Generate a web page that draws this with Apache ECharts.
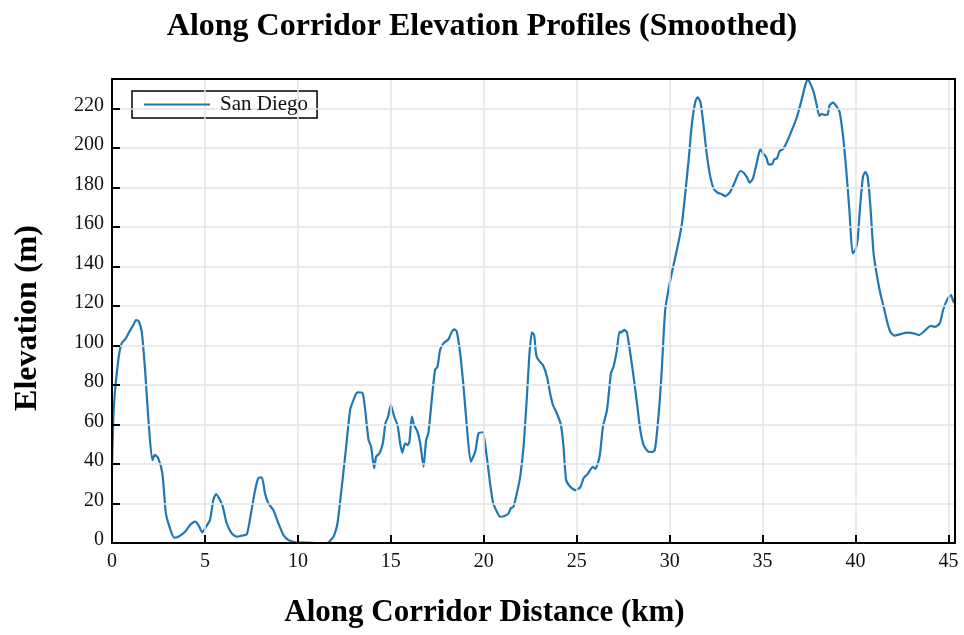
<!DOCTYPE html>
<html>
<head>
<meta charset="utf-8">
<script src="https://cdn.jsdelivr.net/npm/echarts@6/dist/echarts.min.js"></script>
<style>
  html, body { margin: 0; padding: 0; background: #fff; }
  #chart { width: 964px; height: 635px; }
</style>
</head>
<body>
<div id="chart"></div>
<script>
// Along-corridor distance (km) and smoothed elevation (m), San Diego profile
const distanceKm = [
  0.0, 0.1, 0.34, 0.52, 0.75, 0.93, 1.15, 1.29, 1.43, 1.6, 1.78, 1.96, 2.17, 2.31, 2.49, 2.71, 2.9, 3.12, 3.34, 3.57,
  3.93, 4.2, 4.47, 4.65, 4.86, 5.06, 5.27, 5.45, 5.6, 5.81, 5.96, 6.17, 6.44, 6.71, 6.98, 7.25, 7.43, 7.7, 7.87, 8.06,
  8.23, 8.41, 8.68, 8.95, 9.22, 9.49, 9.94, 10.48, 11.02, 11.56, 11.91, 12.13, 12.3, 12.54, 12.81, 12.99, 13.2, 13.47, 13.62, 13.8,
  13.94, 14.1, 14.21, 14.39, 14.57, 14.71, 14.85, 15.0, 15.18, 15.36, 15.5, 15.62, 15.77, 15.9, 16.0, 16.13, 16.25, 16.43, 16.58, 16.76,
  16.9, 17.02, 17.2, 17.38, 17.51, 17.65, 17.83, 18.1, 18.28, 18.42, 18.55, 18.73, 18.91, 19.09, 19.3, 19.54, 19.72, 19.95, 20.16, 20.34,
  20.49, 20.7, 20.88, 21.15, 21.33, 21.46, 21.6, 21.78, 21.96, 22.14, 22.32, 22.46, 22.59, 22.71, 22.82, 22.94, 23.18, 23.4, 23.57, 23.72,
  23.93, 24.15, 24.29, 24.43, 24.65, 24.92, 25.19, 25.37, 25.58, 25.87, 26.0, 26.23, 26.41, 26.63, 26.84, 26.98, 27.16, 27.3, 27.39, 27.56,
  27.7, 27.88, 28.06, 28.24, 28.42, 28.6, 28.86, 29.05, 29.2, 29.33, 29.47, 29.58, 29.76, 30.0, 30.21, 30.48, 30.66, 30.84, 31.02, 31.2,
  31.38, 31.5, 31.65, 31.79, 31.97, 32.15, 32.36, 32.58, 32.78, 32.99, 33.22, 33.44, 33.62, 33.8, 33.98, 34.16, 34.3, 34.48, 34.7, 34.88,
  35.02, 35.2, 35.32, 35.5, 35.63, 35.77, 35.92, 36.1, 36.31, 36.58, 36.85, 37.12, 37.3, 37.44, 37.56, 37.74, 37.89, 38.05, 38.17, 38.37,
  38.5, 38.61, 38.79, 38.97, 39.14, 39.33, 39.5, 39.68, 39.84, 39.99, 40.11, 40.26, 40.4, 40.53, 40.65, 40.8, 40.97, 41.16, 41.33, 41.51,
  41.7, 41.87, 42.09, 42.41, 42.77, 43.13, 43.4, 43.67, 44.03, 44.29, 44.53, 44.71, 44.92, 45.14, 45.28, 45.35
];
const elevationM = [
  38.6, 69.0, 92.7, 101.1, 103.7, 107.0, 110.4, 112.9, 112.4, 107.0, 87.6, 62.3, 42.0, 44.6, 42.9, 35.3, 15.0, 7.4, 2.7, 3.2,
  5.7, 9.1, 10.8, 9.1, 5.4, 8.3, 11.6, 21.8, 24.8, 21.8, 18.4, 10.0, 4.9, 3.2, 3.7, 4.4, 12.5, 26.8, 32.8, 33.3,
  25.2, 20.1, 16.7, 10.0, 4.1, 1.5, 0.2, 0.2, 0.0, 0.0, 3.2, 10.0, 23.4, 43.7, 67.4, 72.4, 76.3, 76.1, 67.4, 52.2,
  48.8, 37.8, 43.7, 45.4, 50.5, 60.6, 64.0, 69.9, 64.0, 59.8, 50.5, 45.7, 50.5, 49.6, 51.3, 64.0, 59.8, 56.4, 50.5, 38.6,
  52.2, 55.6, 72.4, 87.6, 89.3, 97.7, 101.1, 103.2, 107.0, 108.2, 107.0, 96.1, 79.2, 58.9, 41.2, 46.2, 55.6, 56.1, 43.7, 30.2,
  20.9, 15.9, 13.3, 13.8, 15.0, 17.6, 18.4, 25.2, 33.6, 48.8, 74.1, 96.1, 106.7, 105.3, 95.2, 92.7, 90.1, 84.2, 75.8, 69.9,
  65.7, 59.8, 48.8, 31.9, 28.5, 26.8, 28.2, 32.8, 34.9, 38.6, 37.5, 43.7, 58.9, 67.4, 85.9, 89.3, 97.7, 107.0, 106.7, 107.9,
  106.7, 96.1, 84.2, 70.8, 57.2, 49.6, 46.2, 46.1, 47.1, 57.2, 72.4, 88.5, 118.0, 131.5, 140.8, 152.6, 161.9, 177.1, 194.0, 212.6,
  223.5, 225.7, 223.5, 214.2, 199.0, 187.2, 179.6, 177.4, 176.8, 175.7, 177.4, 181.3, 185.5, 188.4, 187.5, 185.2, 182.5, 184.7, 193.1, 199.5,
  197.4, 195.3, 191.8, 191.8, 194.3, 194.8, 198.5, 199.5, 203.2, 209.2, 215.9, 225.2, 232.0, 234.8, 232.8, 228.6, 222.7, 216.3, 217.3, 216.8,
  217.1, 221.8, 223.0, 221.3, 218.4, 205.8, 188.9, 167.0, 146.7, 148.4, 153.5, 172.0, 185.5, 188.0, 185.5, 170.3, 146.7, 134.9, 126.5, 119.7,
  112.1, 107.0, 105.0, 105.8, 106.5, 106.2, 105.3, 107.0, 109.9, 109.5, 111.3, 118.0, 123.1, 125.6, 121.9, 123.6
];

const seriesName = 'San Diego';
const titleText = 'Along Corridor Elevation Profiles (Smoothed)';
const xAxisTitle = 'Along Corridor Distance (km)';
const yAxisTitle = 'Elevation (m)';
const xStepKm = 5;
const yStepM = 20;
const xMaxKm = 45.35;
const yMaxM = 235;

const serif = '"Liberation Serif", "Times New Roman", Times, serif';
const lineColor = '#1f77b4';
const points = distanceKm.map((d, i) => [d, elevationM[i]]);

// plain black frame line for the top and right edges of the plot
const frameAxis = {
  show: true,
  axisLine: { show: true, onZero: false, lineStyle: { color: '#000', width: 2 } },
  axisTick: { show: false },
  axisLabel: { show: false },
  splitLine: { show: false },
  z: 5
};

const chart = echarts.init(document.getElementById('chart'), null, { renderer: 'canvas' });
chart.setOption({
  animation: false,
  backgroundColor: '#ffffff',
  title: {
    text: titleText,
    left: 'center',
    top: 6,
    textStyle: { fontFamily: serif, fontSize: 32, fontWeight: 'bold', color: '#000' }
  },
  legend: {
    data: [{ name: seriesName, icon: 'rect' }],
    left: 132,
    top: 91,
    orient: 'vertical',
    itemWidth: 66,
    itemHeight: 2,
    padding: [3, 9, 3, 12],
    borderColor: '#000',
    borderWidth: 1.5,
    borderRadius: 0,
    backgroundColor: '#fff',
    itemStyle: { color: lineColor },
    textStyle: { fontFamily: serif, fontSize: 21, color: '#111', padding: [0, 0, 0, 5] }
  },
  grid: {
    left: 112,
    right: 9,
    top: 79,
    bottom: 92,
    containLabel: false
  },
  xAxis: [{
    type: 'value',
    min: 0,
    max: xMaxKm,
    interval: xStepKm,
    name: xAxisTitle,
    nameLocation: 'middle',
    nameGap: 54,
    nameTextStyle: { fontFamily: serif, fontSize: 31, fontWeight: 'bold', color: '#000', padding: [0, 98, 0, 0] },
    axisLine: { show: true, onZero: false, lineStyle: { color: '#000', width: 2 } },
    axisTick: { show: true, inside: true, length: 8, lineStyle: { color: '#000', width: 2 } },
    axisLabel: {
      fontFamily: serif, fontSize: 20, color: '#111', margin: 9,
      formatter: v => (Math.abs(v % xStepKm) < 1e-9 ? String(v) : '')
    },
    splitLine: { show: true, lineStyle: { color: '#e3e3e3', width: 1.5 } },
    z: 4
  }, Object.assign({ type: 'value', position: 'top', min: 0, max: xMaxKm }, frameAxis)],
  yAxis: [{
    type: 'value',
    min: 0,
    max: yMaxM,
    interval: yStepM,
    name: yAxisTitle,
    nameLocation: 'middle',
    nameGap: 68,
    nameTextStyle: { fontFamily: serif, fontSize: 32, fontWeight: 'bold', color: '#000', padding: [0, 14, 0, 0] },
    axisLine: { show: true, onZero: false, lineStyle: { color: '#000', width: 2 } },
    axisTick: { show: true, inside: true, length: 8, lineStyle: { color: '#000', width: 2 } },
    axisLabel: {
      fontFamily: serif, fontSize: 20, color: '#111', margin: 8,
      verticalAlign: 'bottom', lineHeight: 6,
      formatter: v => (Math.abs(v % yStepM) < 1e-9 ? String(v) : '')
    },
    splitLine: { show: true, lineStyle: { color: '#e3e3e3', width: 1.5 } },
    z: 4
  }, Object.assign({ type: 'value', position: 'right', min: 0, max: yMaxM }, frameAxis)],
  series: [{
    name: seriesName,
    type: 'line',
    data: points,
    symbol: 'none',
    smooth: 0.2,
    lineStyle: { color: lineColor, width: 2.2 },
    itemStyle: { color: lineColor }
  }]
});
</script>
</body>
</html>
